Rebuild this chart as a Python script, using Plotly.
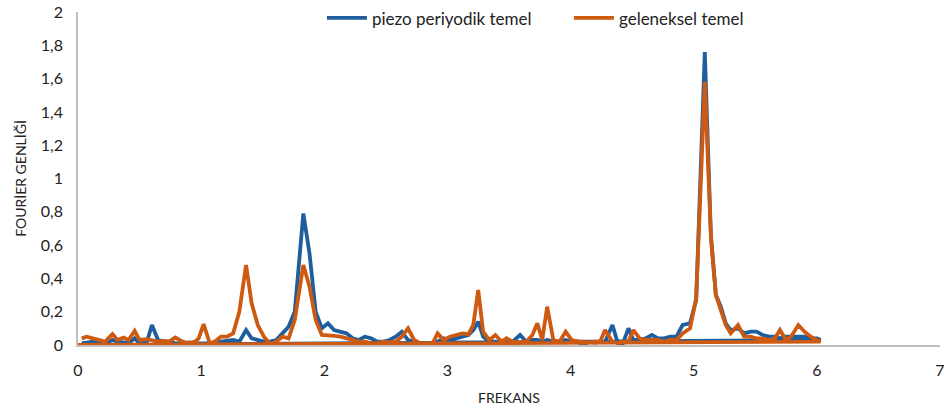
import plotly.graph_objects as go

frekans = [0.03,0.07,0.12,0.17,0.22,0.28,0.32,0.37,0.41,0.46,0.50,0.56,0.60,0.65,0.70,0.74,0.79,0.85,0.90,0.95,
           0.98,1.02,1.07,1.11,1.16,1.21,1.26,1.31,1.365,1.41,1.46,1.51,1.56,1.61,1.66,1.71,1.76,1.83,1.88,1.93,
           1.98,2.03,2.08,2.13,2.18,2.23,2.28,2.33,2.38,2.43,2.48,2.53,2.58,2.63,2.68,2.73,2.78,2.83,2.88,2.92,
           2.97,3.02,3.07,3.12,3.17,3.21,3.25,3.29,3.34,3.39,3.44,3.48,3.53,3.59,3.64,3.69,3.73,3.77,3.81,3.86,
           3.91,3.96,4.01,4.06,4.10,4.15,4.20,4.24,4.28,4.34,4.38,4.42,4.47,4.51,4.56,4.61,4.66,4.71,4.76,4.81,
           4.86,4.91,4.97,5.02,5.09,5.14,5.18,5.22,5.26,5.30,5.36,5.41,5.46,5.51,5.56,5.61,5.66,5.70,5.75,5.79,
           5.85,5.90,5.95,6.00,6.03,0.0]

piezo = [0.01,0.015,0.02,0.02,0.01,0.03,0.02,0.015,0.01,0.04,0.01,0.02,0.12,0.03,0.02,0.02,0.01,0.01,0.015,0.01,
         0.01,0.015,0.01,0.01,0.02,0.025,0.03,0.02,0.09,0.04,0.03,0.02,0.02,0.03,0.07,0.11,0.2,0.79,0.55,0.2,
         0.1,0.13,0.09,0.08,0.07,0.04,0.03,0.05,0.04,0.02,0.02,0.03,0.05,0.08,0.03,0.02,0.01,0.01,0.01,0.02,
         0.04,0.03,0.04,0.05,0.06,0.09,0.14,0.05,0.02,0.02,0.015,0.02,0.02,0.06,0.02,0.03,0.03,0.02,0.03,0.02,
         0.02,0.03,0.02,0.02,0.0,0.02,0.015,0.02,0.02,0.12,0.02,0.0,0.1,0.03,0.03,0.04,0.06,0.04,0.04,0.05,
         0.05,0.12,0.13,0.27,1.76,0.65,0.3,0.23,0.13,0.09,0.1,0.07,0.08,0.08,0.06,0.05,0.05,0.04,0.05,0.05,
         0.05,0.05,0.04,0.04,0.03,0.0]

geleneksel = [0.04,0.05,0.04,0.03,0.02,0.065,0.03,0.045,0.03,0.085,0.03,0.035,0.03,0.02,0.025,0.02,0.045,0.02,0.01,0.02,
              0.04,0.125,0.01,0.02,0.05,0.05,0.07,0.2,0.48,0.25,0.12,0.05,0.005,0.02,0.05,0.04,0.15,0.48,0.35,0.15,
              0.06,0.06,0.055,0.05,0.04,0.03,0.02,0.02,0.01,0.01,0.02,0.015,0.02,0.05,0.1,0.03,0.01,0.01,0.01,0.07,
              0.03,0.05,0.06,0.07,0.065,0.12,0.33,0.08,0.03,0.06,0.02,0.04,0.02,0.015,0.02,0.06,0.13,0.03,0.23,0.03,
              0.02,0.08,0.03,0.02,0.02,0.015,0.02,0.02,0.09,0.02,0.01,0.02,0.02,0.09,0.04,0.03,0.03,0.03,0.02,0.03,
              0.03,0.07,0.1,0.28,1.58,0.65,0.3,0.2,0.12,0.07,0.12,0.05,0.05,0.04,0.04,0.03,0.04,0.09,0.03,0.05,
              0.12,0.08,0.05,0.03,0.02,0.0]

y_ticks = [0, 0.2, 0.4, 0.6, 0.8, 1, 1.2, 1.4, 1.6, 1.8, 2]
x_ticks = [0, 1, 2, 3, 4, 5, 6, 7]

FONT = "Lato, 'Open Sans', sans-serif"

fig = go.Figure()
fig.add_trace(go.Scatter(x=frekans, y=piezo, mode="lines", name="piezo periyodik temel",
                         line=dict(color="#1F5E9C", width=3.8)))
fig.add_trace(go.Scatter(x=frekans, y=geleneksel, mode="lines", name="geleneksel temel",
                         line=dict(color="#CE5A12", width=3.8)))

fig.update_layout(
    width=944, height=416,
    margin=dict(l=78, r=4, t=12, b=71, autoexpand=False),
    paper_bgcolor="white", plot_bgcolor="white",
    separators=", ",
    font=dict(family=FONT, size=15, color="#222222"),
    showlegend=True,
    legend=dict(orientation="h", x=0.283, xanchor="left", y=1.035, yanchor="top",
                font=dict(size=17, color="#222222"), bgcolor="rgba(0,0,0,0)",
                itemwidth=40, entrywidth=192, entrywidthmode="pixels"),
    xaxis=dict(range=[0, 7], tickvals=x_ticks, showgrid=False, zeroline=False,
               showline=True, linecolor="#BFBFBF", linewidth=1.5, ticks="",
               automargin=False, ticklabeloverflow="allow", ticklabelstandoff=10,
               title=dict(text="FREKANS", font=dict(size=14), standoff=15),
               tickfont=dict(size=16)),
    yaxis=dict(range=[0, 2], tickvals=y_ticks, showgrid=False, zeroline=False,
               showline=True, linecolor="#BFBFBF", linewidth=1.5, ticks="",
               automargin=False, ticklabeloverflow="allow", ticklabelstandoff=10,
               title=dict(text="FOURİER GENLİĞİ", font=dict(size=14), standoff=11),
               tickfont=dict(size=16)),
)

fig.write_html("out.html", config={"displayModeBar": False},
               post_script="document.body.style.margin='0';")
